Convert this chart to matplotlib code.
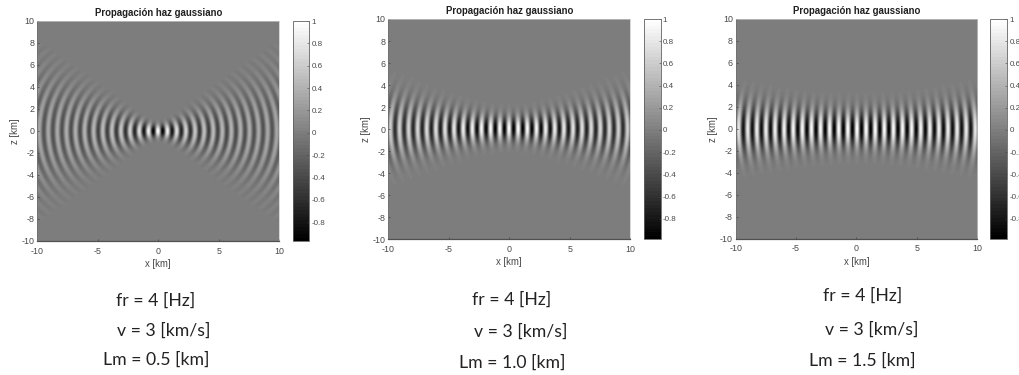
import numpy as np
import matplotlib
matplotlib.use("Agg")
import matplotlib.pyplot as plt

# Parameters printed in the reference
fr_hz = [4, 4, 4]
v_kms = [3, 3, 3]
lm_km = [0.5, 1.0, 1.5]
# Colour limits
cmin = [-0.97, -0.985, -0.98]
cmax = [1.0, 1.0, 1.0]
title = "Propagación haz gaussiano"
xlabel = "x [km]"
ylabel = "z [km]"
xticks = [-10, -5, 0, 5, 10]
yticks = [-10, -8, -6, -4, -2, 0, 2, 4, 6, 8, 10]
cticks = [-0.8, -0.6, -0.4, -0.2, 0, 0.2, 0.4, 0.6, 0.8, 1]
fr_text = ["fr = 4 [Hz]"] * 3
v_text = ["v = 3 [km/s]"] * 3
lm_text = ["Lm = 0.5 [km]", "Lm = 1.0 [km]", "Lm = 1.5 [km]"]

# Layout in pixels: axes left, right, top, bottom; colourbar left, right
W, H = 1020, 375
boxes = [(37.3, 279.3, 21, 241, 292.7, 309.3),
         (388.3, 630.3, 19, 239.3, 643.7, 660.7),
         (735.7, 977.3, 19, 238.7, 990.3, 1007.3)]
text_pos = [[(116, 301), (117, 331), (103, 360)],
            [(472, 300), (474, 332), (459, 363)],
            [(823, 296), (825, 330), (809, 361)]]

plt.rcParams["font.family"] = ["Liberation Sans", "DejaVu Sans"]
plt.rcParams["axes.unicode_minus"] = False
TXT = "#484848"
fig = plt.figure(figsize=(W / 100, H / 100), dpi=100)


def rect(l, r, t, b):
    return [l / W, 1 - b / H, (r - l) / W, (b - t) / H]


def beam(fr, v, lm):
    """Real part of a 2-D Gaussian beam, waist lm at the origin (physical model)."""
    x = np.linspace(-10, 10, 501)
    z = np.linspace(-10, 10, 501)
    X, Z = np.meshgrid(x, z)
    X = np.where(X == 0, 1e-9, X)
    lam = v / fr
    k = 2 * np.pi / lam
    xr = np.pi * lm ** 2 / lam
    w = lm * np.sqrt(1 + (X / xr) ** 2)
    R = X * (1 + (xr / X) ** 2)
    gouy = np.arctan(X / xr)
    return np.sqrt(lm / w) * np.exp(-(Z / w) ** 2) * np.cos(k * X + k * Z ** 2 / (2 * R) - gouy / 2)


cmap = plt.get_cmap("gray", 64)
for i, (l, r, t, b, cl, cr) in enumerate(boxes):
    ax = fig.add_axes(rect(l, r, t, b))
    im = ax.imshow(beam(fr_hz[i], v_kms[i], lm_km[i]), extent=[-10, 10, -10, 10], origin="lower",
                   cmap=cmap, vmin=cmin[i], vmax=cmax[i], aspect="auto", interpolation="bilinear")
    ax.set_xticks(xticks)
    ax.set_yticks(yticks)
    ax.tick_params(direction="in", length=1.5, width=0.5, labelsize=6.4, color="#404040",
                   labelcolor=TXT)
    ax.tick_params(axis="x", pad=4)
    ax.tick_params(axis="y", pad=2)
    ax.set_title(title, fontsize=6.9, fontweight="bold", color="#202020", pad=3.5)
    ax.set_xlabel(xlabel, fontsize=6.9, color=TXT, labelpad=2.4)
    ax.set_ylabel(ylabel, fontsize=6.9, color=TXT, labelpad=1.2)
    for side, col, lw in [("bottom", "#505050", 0.9), ("left", "#707070", 0.6),
                          ("top", "#c8c8c8", 0.5), ("right", "#c8c8c8", 0.5)]:
        ax.spines[side].set_color(col)
        ax.spines[side].set_linewidth(lw)

    cax = fig.add_axes(rect(cl, cr, t, b))
    cb = fig.colorbar(im, cax=cax, ticks=cticks)
    cb.ax.set_yticklabels([f"{c:g}" for c in cticks])
    cb.ax.tick_params(direction="in", length=1.5, width=0.4, labelsize=5.8, color="#404040",
                      labelcolor=TXT, pad=1.5)
    cb.outline.set_edgecolor("#606060")
    cb.outline.set_linewidth(0.6)

    for s, (px, py) in zip((fr_text[i], v_text[i], lm_text[i]), text_pos[i]):
        fig.text(px / W, 1 - py / H, s, fontsize=12.7, family=["Lato", "DejaVu Sans"],
                 color="#222222", ha="left", va="center")

fig.savefig("out.png", dpi=100)
